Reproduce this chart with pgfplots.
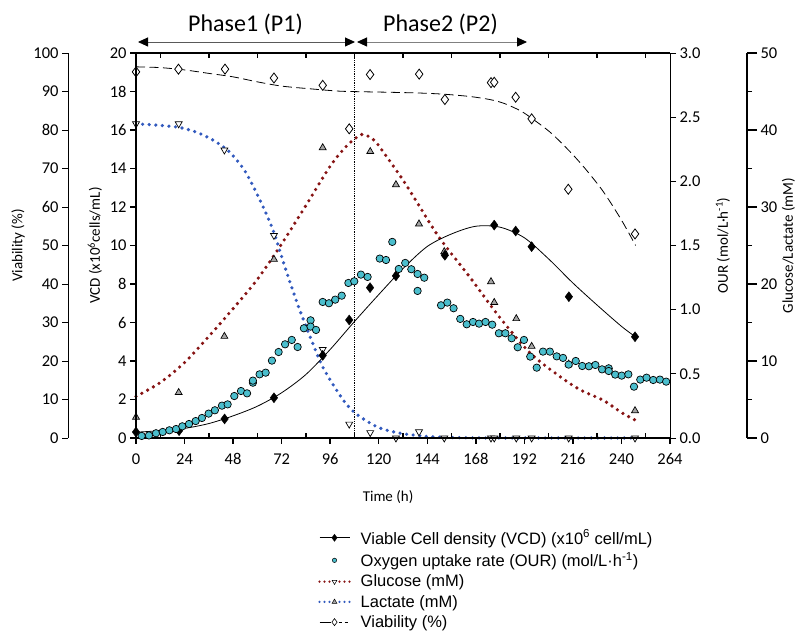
\documentclass[border=0pt]{standalone}
\usepackage{pgfplots}
\pgfplotsset{compat=1.18}
\usepackage{pgfplotstable}
\usepackage{fontspec}
\setmainfont{Carlito}
\newfontfamily\arialfont{Liberation Sans}
\usetikzlibrary{arrows.meta}
\definecolor{ourcyan}{RGB}{75,190,205}
\definecolor{glured}{RGB}{135,20,20}
\definecolor{lacblue}{RGB}{50,90,190}
\definecolor{trigray}{RGB}{165,165,165}

\pgfplotsset{
  /pgf/number format/assume math mode=true,
  base/.style={scale only axis, width=534bp, height=385bp, xmin=0, xmax=264, clip=false,
    at={(136bp,194bp)}, anchor=south west,
    tick label style={font=\fontsize{16.5bp}{18bp}\selectfont},
    label style={font=\fontsize{15bp}{17bp}\selectfont}},
  deco/.style={scale only axis, width=10bp, height=385bp, xmin=0, xmax=1, clip=false,
    hide x axis, anchor=south west,
    tick label style={font=\fontsize{16.5bp}{18bp}\selectfont},
    label style={font=\fontsize{15bp}{17bp}\selectfont}},
  dotcurve/.style={line width=3.6bp, dash pattern=on 0bp off 6.6bp, line cap=round},
}

% ---------------- data ----------------
\pgfplotstableread{
t v
0 95.1
21 95.8
44 95.8
68.2 93.5
92.3 91.6
105.4 80.3
115.7 94.4
140 94.5
152.7 87.9
175.5 92.3
177.1 92.4
187.7 88.5
195.6 82.9
213.7 64.6
246.7 53.0
}\viabpts
\pgfplotstableread{
t v
0 96.4
12 96.2
24 95.6
36 94.7
48 93.8
60 92.5
72 91.4
86 90.7
100 90.1
110 89.95
125 89.8
140 89.6
152 89.3
165 88.7
175 87.9
182 86.9
190 85.0
196 82.9
205 79.3
214.5 74.4
222 70.0
231 64.0
240 56.6
247 50.0
}\viabfit
\pgfplotstableread{
t c
0 0.31
21.3 0.38
43.8 0.99
68.2 2.09
92.3 4.29
105.4 6.13
115.7 7.81
128.5 8.42
152.7 9.49
177.1 11.06
187.7 10.75
195.6 9.94
214 7.34
246.7 5.26
}\vcdpts
\pgfplotstableread{
t c
0 0.30
12 0.38
24 0.50
36 0.75
48 1.15
60 1.65
72 2.35
84 3.30
96 4.60
108 6.05
120 7.45
132 8.80
144 9.95
156 10.60
168 11.00
180 10.95
192 10.40
204 9.30
216 8.05
228 6.90
240 5.80
247 5.25
}\vcdfit
\pgfplotstableread{
t o
2.8 0.016
6.4 0.020
9.9 0.037
13.2 0.047
16.5 0.060
19.8 0.070
22.9 0.091
26.2 0.109
29.5 0.132
32.6 0.156
35.9 0.190
39.0 0.216
42.5 0.252
45.3 0.262
48.6 0.327
51.9 0.366
54.9 0.348
57.8 0.431
57.8 0.447
61.1 0.496
64.1 0.509
67.2 0.603
70.5 0.670
73.7 0.730
77.0 0.764
79.9 0.709
83.0 0.855
86.3 0.917
86.3 0.868
89.0 0.842
92.3 1.060
95.4 1.050
98.5 1.078
101.7 1.109
105.0 1.208
107.9 1.221
111.2 1.273
114.5 1.255
120.5 1.398
123.6 1.387
126.7 1.528
129.9 1.317
133.1 1.364
136.1 1.315
139.2 1.278
139.2 1.146
142.5 1.249
150.8 1.034
153.9 1.055
157.0 1.011
160.3 0.928
163.5 0.886
166.6 0.904
169.6 0.891
172.8 0.904
176.1 0.883
179.4 0.816
182.6 0.816
185.7 0.777
188.7 0.707
191.8 0.764
194.9 0.634
198.1 0.548
201.2 0.673
204.6 0.673
208.0 0.636
211.1 0.624
213.9 0.572
217.4 0.600
220.6 0.561
223.9 0.559
227.1 0.569
230.4 0.535
233.7 0.543
233.7 0.522
236.9 0.494
240.1 0.486
243.4 0.496
246.2 0.400
249.3 0.455
252.4 0.470
255.7 0.452
259.0 0.455
262.1 0.439
}\ourpts
\pgfplotstableread{
t g
0 2.7
21.1 5.9
43.7 13.2
68.2 23.2
92.3 37.7
115.8 37.2
128.5 32.9
139.9 27.8
152.4 24.2
175.5 20.3
177.1 17.6
188.0 15.5
195.6 11.9
213.9 9.6
246.7 3.55
}\uppts
\pgfplotstableread{
t g
0 40.8
21.1 40.8
43.7 37.4
68.2 26.3
92.3 11.5
105.4 1.8
115.8 0.7
128.5 0
139.9 0.8
152.4 0
175.5 0
177.1 0
188.0 0
195.6 0
213.9 0
246.7 0
}\downpts
\pgfplotstableread{
t g
0 5.4
12 7.2
24 9.8
36 13.2
48 16.8
60 20.6
72 25.2
84 30.2
96 35.3
104 37.9
110 39.2
113 39.4
118 38.6
124 36.5
132 33.5
138 31.0
150 26.0
165 20.9
180 15.6
195 11.0
210 7.9
220 6.2
231 4.9
240 3.3
247 2.3
}\redfit
\pgfplotstableread{
t g
0 40.8
12 40.6
22 40.3
30 39.7
38 38.7
46 37.2
54 34.6
62 30.5
68 26.8
74 21.9
80 17.3
86 13.2
92 9.4
98 6.7
104 4.4
110 2.9
120 1.35
130 0.65
140 0.3
150 0.1
165 0.02
180 0
247 0
}\bluefit

\begin{document}
\begin{tikzpicture}[x=1bp,y=1bp]
\path (0,0) rectangle (797,632);

% Viability axis (decoration)
\begin{axis}[deco, at={(68bp,194bp)}, axis y line*=left, ymin=0, ymax=100,
  ytick={0,10,...,100}, tick align=outside, major tick length=6bp,
  y axis line style={-, line width=0.8bp}, every tick/.style={black, line width=0.8bp},
  ylabel={Viability (\%)},
  ylabel style={at={(axis description cs:-5,0.5)}, anchor=center}]
\addplot[draw=none, forget plot] coordinates {(0,0)};
\end{axis}

% Glucose/Lactate axis (decoration)
\begin{axis}[deco, at={(737bp,194bp)}, axis y line*=right, ymin=0, ymax=50,
  ytick={0,10,...,50}, minor ytick={5,15,...,45}, tick align=outside,
  major tick length=10bp, minor tick length=5bp,
  y axis line style={-, line width=2bp}, every tick/.style={black, line width=1.6bp},
  ylabel={Glucose/Lactate (mM)},
  ylabel style={at={(axis description cs:5.15,0.5)}, anchor=center, rotate=0}]
\addplot[draw=none, forget plot] coordinates {(0,0)};
\end{axis}

% Viability data
\begin{axis}[base, hide axis, ymin=0, ymax=100]
\addplot[black, line width=0.8bp, dash pattern=on 9bp off 4.5bp, smooth] table[x=t,y=v] {\viabfit};
\addplot[only marks, mark=diamond*, mark size=5bp, mark options={fill=white, draw=black, line width=0.8bp}] table[x=t,y=v] {\viabpts};
\end{axis}

% Glucose / Lactate data
\begin{axis}[base, hide axis, ymin=0, ymax=50]
\addplot[glured, dotcurve, smooth] table[x=t,y=g] {\redfit};
\addplot[lacblue, dotcurve, smooth] table[x=t,y=g] {\bluefit};
\addplot[only marks, mark=triangle*, mark size=4bp, mark options={fill=trigray, draw=black, line width=0.7bp}] table[x=t,y=g] {\uppts};
\addplot[only marks, mark=triangle*, mark size=4bp, mark options={rotate=180, fill=white, draw=black, line width=0.7bp}] table[x=t,y=g] {\downpts};
\end{axis}

% Main axis: VCD
\begin{axis}[base, ymin=0, ymax=20, axis x line*=bottom, axis y line*=left,
  x axis line style={-, line width=2bp}, y axis line style={-, line width=2bp},
  xtick={0,24,...,264}, ytick={0,2,...,20}, tick align=outside, major tick length=6bp,
  every tick/.style={black, line width=1.5bp},
  xticklabel style={yshift=-6bp},
  extra x ticks={12,36,...,252}, extra x tick labels={},
  extra x tick style={tick align=inside, major tick length=5bp},
  xlabel={Time (h)}, ylabel={VCD (x10\textsuperscript{6}cells/mL)},
  xlabel style={at={(axis description cs:0.472,-0.153)}, anchor=center},
  ylabel style={at={(axis description cs:-0.077,0.5)}, anchor=center}]
\draw[black, line width=0.8bp, densely dotted] (axis cs:108,0) -- (axis cs:108,20);
\addplot[black, line width=0.8bp, smooth] table[x=t,y=c] {\vcdfit};
\addplot[only marks, mark=diamond*, mark size=5bp, mark options={fill=black, draw=black}] table[x=t,y=c] {\vcdpts};
\end{axis}

% Top axis line
\begin{axis}[base, ymin=0, ymax=20, axis x line*=top, hide y axis,
  x axis line style={-, line width=2bp}, xtick={12,36,...,252}, xticklabels={},
  tick align=inside, major tick length=5bp, every tick/.style={black, line width=1.5bp}]
\addplot[draw=none, forget plot] coordinates {(0,0)};
\end{axis}

% OUR axis
\begin{axis}[base, ymin=0, ymax=3, axis y line*=right, axis x line=none,
  y axis line style={-, line width=0.8bp}, ytick={0,0.5,...,3}, tick align=outside,
  major tick length=6bp, every tick/.style={black, line width=0.8bp},
  yticklabel style={/pgf/number format/.cd, fixed, fixed zerofill, precision=1},
  ylabel={OUR (mol/L·h\textsuperscript{-1})},
  ylabel style={at={(axis description cs:1.099,0.5)}, anchor=center, rotate=0}]
\addplot[only marks, mark=*, mark size=3.7bp, mark options={fill=ourcyan, draw=black, line width=0.7bp}] table[x=t,y=o] {\ourpts};
\end{axis}

% Legend
\begin{axis}[base, hide axis, ymin=0, ymax=1,
  legend cell align=left,
  legend style={at={(axis description cs:0.341,-0.233)}, anchor=north west, draw=none, fill=none,
    font=\arialfont\fontsize{16.5bp}{18bp}\selectfont, row sep=2.8bp, inner sep=0bp,
    /tikz/every odd column/.append style={column sep=8bp}}]
\addplot[draw=none, forget plot] coordinates {(0,0)};
\addlegendimage{legend image code/.code={
  \draw[black, line width=0.8bp] (0bp,0bp) -- (30bp,0bp);
  \draw[black, mark=diamond*, mark size=3.5bp] plot coordinates {(15bp,0bp)};}}
\addlegendentry{Viable Cell density (VCD) (x10\textsuperscript{6} cell/mL)}
\addlegendimage{legend image code/.code={
  \draw[mark=*, mark size=2.2bp, mark options={fill=ourcyan, draw=black, line width=0.5bp}] plot coordinates {(15bp,0bp)};}}
\addlegendentry{Oxygen uptake rate (OUR) (mol/L·h\textsuperscript{-1})}
\addlegendimage{legend image code/.code={
  \draw[glured, line width=2.4bp, dash pattern=on 0bp off 5bp, line cap=round] (0bp,0bp) -- (30bp,0bp);
  \draw[mark=triangle*, mark size=2.8bp, mark options={rotate=180, fill=white, draw=black, line width=0.5bp}] plot coordinates {(15bp,0bp)};}}
\addlegendentry{Glucose (mM)}
\addlegendimage{legend image code/.code={
  \draw[lacblue, line width=2.4bp, dash pattern=on 0bp off 5bp, line cap=round] (0bp,0bp) -- (30bp,0bp);
  \draw[mark=triangle*, mark size=2.8bp, mark options={fill=trigray, draw=black, line width=0.5bp}] plot coordinates {(15bp,0bp)};}}
\addlegendentry{Lactate (mM)}
\addlegendimage{legend image code/.code={
  \draw[black, line width=0.8bp] (0bp,0bp) -- (11bp,0bp);
  \draw[black, line width=0.8bp, dash pattern=on 3bp off 3bp] (19bp,0bp) -- (30bp,0bp);
  \draw[mark=diamond*, mark size=3.5bp, mark options={fill=white, draw=black, line width=0.6bp}] plot coordinates {(15bp,0bp)};}}
\addlegendentry{Viability (\%)}
\end{axis}

% Phase annotations
\node[font=\fontsize{24bp}{26bp}\selectfont] at (245.5,608) {Phase1 (P1)};
\node[font=\fontsize{24bp}{26bp}\selectfont] at (440.5,608) {Phase2 (P2)};
\draw[gray!70!black, line width=0.9bp, {Triangle[length=10bp,width=9bp,color=black]}-{Triangle[length=10bp,width=9bp,color=black]}] (138,590) -- (355,590);
\draw[gray, line width=0.9bp, {Triangle[length=10bp,width=9bp,color=black]}-{Triangle[length=10bp,width=9bp,color=black]}] (357,590) -- (527,590);

\pgfresetboundingbox
\path (0,0) rectangle (797,632);
\end{tikzpicture}
\end{document}
